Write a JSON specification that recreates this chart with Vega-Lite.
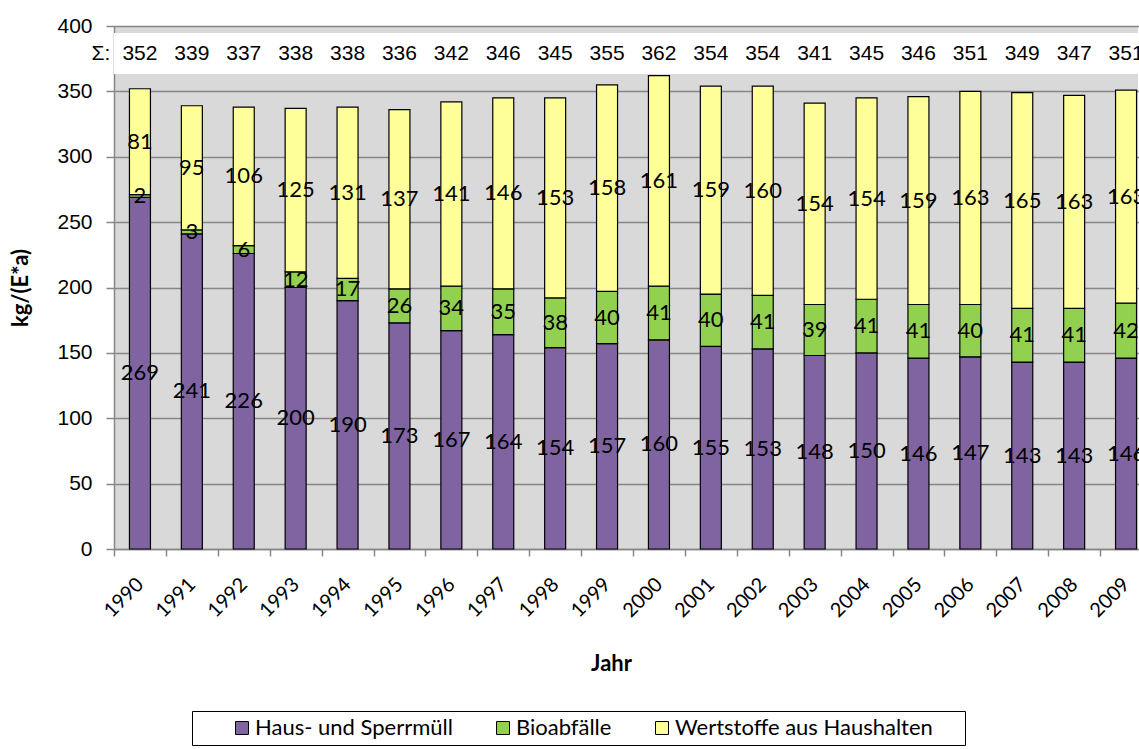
{
  "$schema": "https://vega.github.io/schema/vega-lite/v6.json",
  "width": 1024,
  "height": 523,
  "autosize": {"type": "none"},
  "padding": {"left": 114, "top": 26, "right": 1, "bottom": 200},
  "background": "white",
  "config": {"view": {"fill": "#D9D9D9", "stroke": null}},
  "datasets": {
    "waste": [
      {"year": "1990", "cat": "Haus- und Sperrmüll", "n": 1, "value": 269},
      {"year": "1991", "cat": "Haus- und Sperrmüll", "n": 1, "value": 241},
      {"year": "1992", "cat": "Haus- und Sperrmüll", "n": 1, "value": 226},
      {"year": "1993", "cat": "Haus- und Sperrmüll", "n": 1, "value": 200},
      {"year": "1994", "cat": "Haus- und Sperrmüll", "n": 1, "value": 190},
      {"year": "1995", "cat": "Haus- und Sperrmüll", "n": 1, "value": 173},
      {"year": "1996", "cat": "Haus- und Sperrmüll", "n": 1, "value": 167},
      {"year": "1997", "cat": "Haus- und Sperrmüll", "n": 1, "value": 164},
      {"year": "1998", "cat": "Haus- und Sperrmüll", "n": 1, "value": 154},
      {"year": "1999", "cat": "Haus- und Sperrmüll", "n": 1, "value": 157},
      {"year": "2000", "cat": "Haus- und Sperrmüll", "n": 1, "value": 160},
      {"year": "2001", "cat": "Haus- und Sperrmüll", "n": 1, "value": 155},
      {"year": "2002", "cat": "Haus- und Sperrmüll", "n": 1, "value": 153},
      {"year": "2003", "cat": "Haus- und Sperrmüll", "n": 1, "value": 148},
      {"year": "2004", "cat": "Haus- und Sperrmüll", "n": 1, "value": 150},
      {"year": "2005", "cat": "Haus- und Sperrmüll", "n": 1, "value": 146},
      {"year": "2006", "cat": "Haus- und Sperrmüll", "n": 1, "value": 147},
      {"year": "2007", "cat": "Haus- und Sperrmüll", "n": 1, "value": 143},
      {"year": "2008", "cat": "Haus- und Sperrmüll", "n": 1, "value": 143},
      {"year": "2009", "cat": "Haus- und Sperrmüll", "n": 1, "value": 146},
      {"year": "1990", "cat": "Bioabfälle", "n": 2, "value": 2},
      {"year": "1991", "cat": "Bioabfälle", "n": 2, "value": 3},
      {"year": "1992", "cat": "Bioabfälle", "n": 2, "value": 6},
      {"year": "1993", "cat": "Bioabfälle", "n": 2, "value": 12},
      {"year": "1994", "cat": "Bioabfälle", "n": 2, "value": 17},
      {"year": "1995", "cat": "Bioabfälle", "n": 2, "value": 26},
      {"year": "1996", "cat": "Bioabfälle", "n": 2, "value": 34},
      {"year": "1997", "cat": "Bioabfälle", "n": 2, "value": 35},
      {"year": "1998", "cat": "Bioabfälle", "n": 2, "value": 38},
      {"year": "1999", "cat": "Bioabfälle", "n": 2, "value": 40},
      {"year": "2000", "cat": "Bioabfälle", "n": 2, "value": 41},
      {"year": "2001", "cat": "Bioabfälle", "n": 2, "value": 40},
      {"year": "2002", "cat": "Bioabfälle", "n": 2, "value": 41},
      {"year": "2003", "cat": "Bioabfälle", "n": 2, "value": 39},
      {"year": "2004", "cat": "Bioabfälle", "n": 2, "value": 41},
      {"year": "2005", "cat": "Bioabfälle", "n": 2, "value": 41},
      {"year": "2006", "cat": "Bioabfälle", "n": 2, "value": 40},
      {"year": "2007", "cat": "Bioabfälle", "n": 2, "value": 41},
      {"year": "2008", "cat": "Bioabfälle", "n": 2, "value": 41},
      {"year": "2009", "cat": "Bioabfälle", "n": 2, "value": 42},
      {"year": "1990", "cat": "Wertstoffe aus Haushalten", "n": 3, "value": 81},
      {"year": "1991", "cat": "Wertstoffe aus Haushalten", "n": 3, "value": 95},
      {"year": "1992", "cat": "Wertstoffe aus Haushalten", "n": 3, "value": 106},
      {"year": "1993", "cat": "Wertstoffe aus Haushalten", "n": 3, "value": 125},
      {"year": "1994", "cat": "Wertstoffe aus Haushalten", "n": 3, "value": 131},
      {"year": "1995", "cat": "Wertstoffe aus Haushalten", "n": 3, "value": 137},
      {"year": "1996", "cat": "Wertstoffe aus Haushalten", "n": 3, "value": 141},
      {"year": "1997", "cat": "Wertstoffe aus Haushalten", "n": 3, "value": 146},
      {"year": "1998", "cat": "Wertstoffe aus Haushalten", "n": 3, "value": 153},
      {"year": "1999", "cat": "Wertstoffe aus Haushalten", "n": 3, "value": 158},
      {"year": "2000", "cat": "Wertstoffe aus Haushalten", "n": 3, "value": 161},
      {"year": "2001", "cat": "Wertstoffe aus Haushalten", "n": 3, "value": 159},
      {"year": "2002", "cat": "Wertstoffe aus Haushalten", "n": 3, "value": 160},
      {"year": "2003", "cat": "Wertstoffe aus Haushalten", "n": 3, "value": 154},
      {"year": "2004", "cat": "Wertstoffe aus Haushalten", "n": 3, "value": 154},
      {"year": "2005", "cat": "Wertstoffe aus Haushalten", "n": 3, "value": 159},
      {"year": "2006", "cat": "Wertstoffe aus Haushalten", "n": 3, "value": 163},
      {"year": "2007", "cat": "Wertstoffe aus Haushalten", "n": 3, "value": 165},
      {"year": "2008", "cat": "Wertstoffe aus Haushalten", "n": 3, "value": 163},
      {"year": "2009", "cat": "Wertstoffe aus Haushalten", "n": 3, "value": 163}
    ],
    "totals": [
      {"year": "1990", "total": 352},
      {"year": "1991", "total": 339},
      {"year": "1992", "total": 337},
      {"year": "1993", "total": 338},
      {"year": "1994", "total": 338},
      {"year": "1995", "total": 336},
      {"year": "1996", "total": 342},
      {"year": "1997", "total": 346},
      {"year": "1998", "total": 345},
      {"year": "1999", "total": 355},
      {"year": "2000", "total": 362},
      {"year": "2001", "total": 354},
      {"year": "2002", "total": 354},
      {"year": "2003", "total": 341},
      {"year": "2004", "total": 345},
      {"year": "2005", "total": 346},
      {"year": "2006", "total": 351},
      {"year": "2007", "total": 349},
      {"year": "2008", "total": 347},
      {"year": "2009", "total": 351}
    ]
  },
  "layer": [
    {
      "data": {"name": "waste"},
      "transform": [
        {"stack": "value", "groupby": ["year"], "sort": [{"field": "n"}], "as": ["v0", "v1"]}
      ],
      "mark": {"type": "bar", "width": 21, "stroke": "black", "strokeWidth": 1.2},
      "encoding": {
        "x": {
          "field": "year",
          "type": "ordinal",
          "scale": {"range": [0, 1038], "paddingInner": 0, "paddingOuter": 0},
          "axis": {
            "title": "Jahr",
            "titleFont": "Lato",
            "titleFontWeight": "bold",
            "titleFontSize": 22,
            "titleColor": "black",
            "titleX": 497,
            "titleY": 114,
            "titleBaseline": "middle",
            "labelAngle": -45,
            "labelAlign": "right",
            "labelBaseline": "middle",
            "labelFont": "Lato",
            "labelFontSize": 20,
            "labelColor": "black",
            "labelPadding": 25,
            "tickSize": 7,
            "tickBand": "extent",
            "tickColor": "#868686",
            "tickWidth": 1.5,
            "domainColor": "#868686",
            "domainWidth": 1.5,
            "grid": false
          }
        },
        "y": {
          "field": "v0",
          "type": "quantitative",
          "scale": {"domain": [0, 400], "nice": false},
          "axis": {
            "values": [0, 50, 100, 150, 200, 250, 300, 350, 400],
            "title": "kg/(E*a)",
            "titleFont": "Lato",
            "titleFontWeight": "bold",
            "titleFontSize": 22,
            "titleColor": "black",
            "titlePadding": 24,
            "labelFont": "Liberation Sans",
            "labelFontSize": 21,
            "labelColor": "black",
            "labelPadding": 14,
            "tickSize": 8,
            "tickColor": "#868686",
            "tickWidth": 1.5,
            "domainColor": "#868686",
            "domainWidth": 1.5,
            "gridColor": "#868686",
            "gridWidth": 1.5
          }
        },
        "y2": {"field": "v1"},
        "color": {
          "field": "cat",
          "type": "nominal",
          "scale": {
            "domain": ["Haus- und Sperrmüll", "Bioabfälle", "Wertstoffe aus Haushalten"],
            "range": ["#8064A2", "#92D050", "#FFFF99"]
          },
          "legend": {
            "orient": "none",
            "legendX": 78,
            "legendY": 685,
            "direction": "horizontal",
            "title": "\u00a0",
            "titleOrient": "right",
            "titlePadding": 26,
            "titleFontSize": 10,
            "strokeColor": "black",
            "padding": 6,
            "symbolOffset": 33,
            "columnPadding": 6,
            "symbolType": "square",
            "symbolSize": 169,
            "symbolStrokeColor": "black",
            "symbolStrokeWidth": 1,
            "labelFont": "Lato",
            "labelFontSize": 22,
            "labelColor": "black",
            "labelOffset": 2,
            "labelLimit": 400
          }
        }
      }
    },
    {
      "data": {"name": "waste"},
      "transform": [
        {"stack": "value", "groupby": ["year"], "sort": [{"field": "n"}], "as": ["v0", "v1"]},
        {"calculate": "(datum.v0 + datum.v1) / 2", "as": "mid"}
      ],
      "mark": {"type": "text", "font": "Lato", "fontSize": 22, "color": "black", "baseline": "middle", "align": "center"},
      "encoding": {
        "x": {"field": "year", "type": "ordinal"},
        "y": {"field": "mid", "type": "quantitative"},
        "text": {"field": "value", "type": "quantitative"}
      }
    },
    {
      "data": {"values": [{"band": "Σ"}]},
      "mark": {"type": "rect", "color": "white"},
      "encoding": {
        "y": {"datum": 363.3},
        "y2": {"datum": 394.6}
      }
    },
    {
      "data": {"name": "totals"},
      "mark": {"type": "text", "font": "Liberation Sans", "fontSize": 21, "color": "black", "baseline": "middle", "align": "center"},
      "encoding": {
        "x": {"field": "year", "type": "ordinal"},
        "y": {"datum": 378.6},
        "text": {"field": "total", "type": "quantitative"}
      }
    },
    {
      "data": {"values": [{"s": "Σ:"}]},
      "mark": {"type": "text", "font": "Liberation Sans", "fontSize": 21, "color": "black", "baseline": "middle", "align": "center", "dx": -39},
      "encoding": {
        "x": {"datum": "1990"},
        "y": {"datum": 378.6},
        "text": {"field": "s"}
      }
    }
  ]
}
